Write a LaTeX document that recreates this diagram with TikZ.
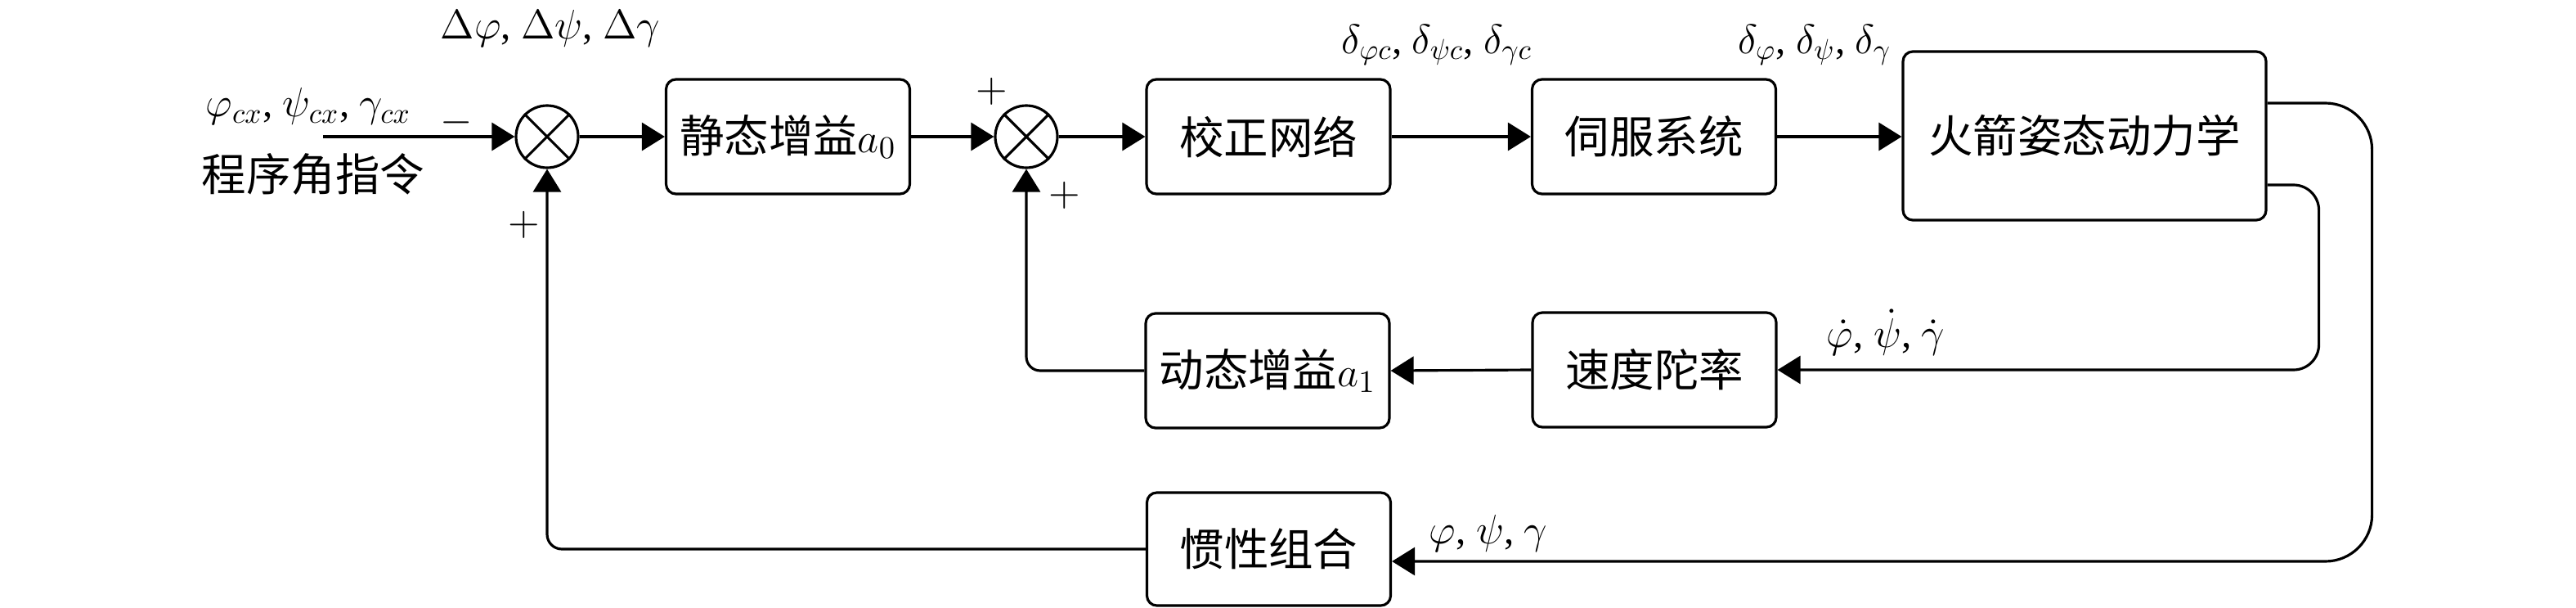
\documentclass[tikz,border=0pt]{standalone}
\usepackage{fontspec}
\setmainfont{Liberation Serif}
\newfontfamily\cjk{Noto Sans CJK SC}
\usepackage{tikz}
\usetikzlibrary{arrows.meta,calc}

\newcommand{\blockfont}{\fontsize{15.5pt}{18pt}\selectfont}
\newcommand{\labelfont}{\fontsize{14pt}{16pt}\selectfont}

\tikzset{
  block/.style={draw, line width=0.9pt, rounded corners=0.12cm, minimum width=2.98cm,
    minimum height=1.40cm, inner sep=0pt, font=\blockfont},
  sumnode/.style={draw, circle, line width=0.9pt, minimum size=0.76cm, inner sep=0pt},
  sig/.style={line width=0.9pt, -{Triangle[length=0.28cm,width=0.34cm]}},
  lab/.style={inner sep=0pt, font=\labelfont}
}

\begin{document}
\begin{tikzpicture}
\useasboundingbox (0,0) rectangle (31.5,-7.42);

% forward path
\coordinate (in) at (3.95,-1.67);
\node [sumnode] (sum1) at (6.69,-1.67) {};
\node [block] (gain0) at (9.635,-1.67) {{\cjk 静态增益}$a_0$};
\node [sumnode] (sum2) at (12.55,-1.67) {};
\node [block] (corr) at (15.51,-1.67) {\cjk 校正网络};
\node [block] (servo) at (20.225,-1.67) {\cjk 伺服系统};
\node [block, minimum width=4.44cm, minimum height=2.06cm] (rocket) at (25.49,-1.66) {\cjk 火箭姿态动力学};

% feedback blocks
\node [block] (gain1) at (15.50,-4.53) {{\cjk 动态增益}$a_1$};
\node [block] (rate) at (20.23,-4.52) {\cjk 速度陀率};
\node [block, minimum height=1.38cm] (ins) at (15.515,-6.71) {\cjk 惯性组合};

% crosses in the summing points
\foreach \s in {sum1,sum2}{
  \draw [line width=0.9pt] (\s.north west) -- (\s.south east);
  \draw [line width=0.9pt] (\s.north east) -- (\s.south west);
}

% connectors
\draw [sig] (in) -- (sum1.west);
\draw [sig] (sum1.east) -- (gain0.west);
\draw [sig] (gain0.east) -- (sum2.west);
\draw [sig] (sum2.east) -- (corr.west);
\draw [sig] (corr.east) -- (servo.west);
\draw [sig] (servo.east) -- (servo.east -| rocket.west);
\draw [sig, rounded corners=0.31cm] ([yshift=-0.6cm]rocket.east) -- ++(0.63,0) |- (rate.east);
\draw [sig] (rate.west) -- (gain1.east);
\draw [sig, rounded corners=0.17cm] (gain1.west) -| (sum2.south);
\draw [sig, rounded corners=0.57cm] ([yshift=0.4cm]rocket.east) -- ++(1.28,0) |- ([yshift=-0.15cm]ins.east);
\draw [sig, rounded corners=0.18cm] (ins.west) -| (sum1.south);

% signal labels
\node [lab] (lcx) at (3.77,-1.30) {$\varphi_{cx}$, $\psi_{cx}$, $\gamma_{cx}$};
\node [lab, font=\blockfont] (lcmd) at (3.83,-2.13) {\cjk 程序角指令};
\node [lab] (ldelta) at (6.73,-0.35) {$\Delta\varphi$, $\Delta\psi$, $\Delta\gamma$};
\node [lab] (ldc) at (17.57,-0.55) {$\delta_{\varphi c}$, $\delta_{\psi c}$, $\delta_{\gamma c}$};
\node [lab] (ld) at (22.19,-0.55) {$\delta_{\varphi}$, $\delta_{\psi}$, $\delta_{\gamma}$};
\node [lab] (ldot) at (23.06,-4.06) {$\dot\varphi$, $\dot\psi$, $\dot\gamma$};
\node [lab] (lang) at (18.20,-6.52) {$\varphi$, $\psi$, $\gamma$};

% signs
\node [lab] (m1) at (5.58,-1.50) {$-$};
\node [lab] (p1) at (6.41,-2.75) {$+$};
\node [lab] (p2) at (12.13,-1.12) {$+$};
\node [lab] (p3) at (13.02,-2.39) {$+$};
\end{tikzpicture}
\end{document}
